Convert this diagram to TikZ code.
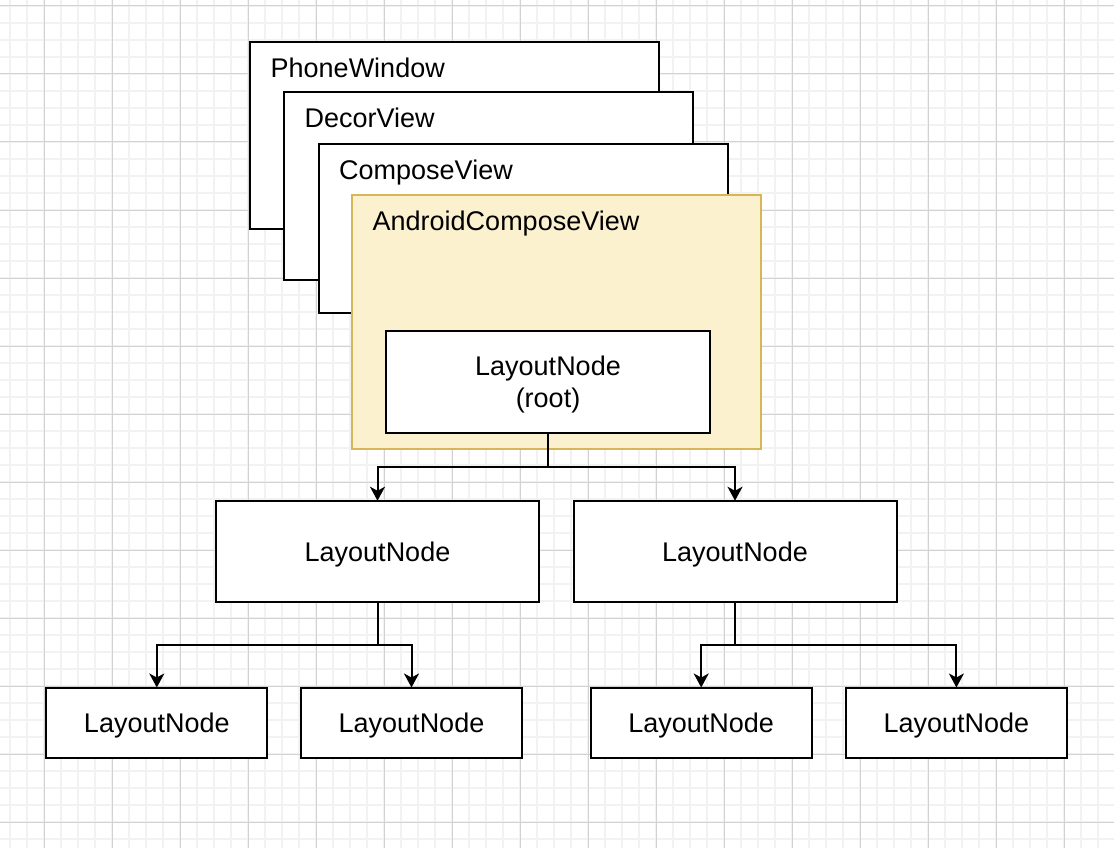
\documentclass[tikz,border=0pt]{standalone}
\usepackage{fontspec}
\setmainfont{Liberation Sans}
\usetikzlibrary{arrows.meta}
\definecolor{notefill}{HTML}{FCF1CE}
\definecolor{notedraw}{HTML}{D6B656}
\definecolor{minorline}{HTML}{F2F2F2}
\definecolor{majorline}{HTML}{D2D2D2}
\newcommand{\layer}[4]{\node[layer,#4,label={[title]north west:#3}] (#1) at (#2) {};}

\begin{document}
\begin{tikzpicture}[
      x=1pt, y=-1pt,
      every node/.style={font=\fontsize{27}{32}\selectfont},
      minorgrid/.style={draw=minorline, line width=1.5pt},
      majorgrid/.style={draw=majorline, line width=1pt},
      layer/.style={rectangle, draw=black, fill=white, line width=2pt, outer sep=0pt, anchor=north west, minimum width=409, minimum height=187},
      title/.style={anchor=base west, inner sep=0pt, xshift=20.5pt, yshift=-35.5pt},
      lnode/.style={rectangle, draw=black, fill=white, line width=2pt, outer sep=0pt, text depth=0pt, align=center},
      leaf/.style={lnode, minimum width=221, minimum height=70},
      pointer/.style={line width=2pt, draw=black, -{Stealth[length=14pt,width=15pt,inset=4pt]}}
      ]
      \useasboundingbox (0,0) rectangle (1114,848);
      \fill[white] (0,0) rectangle (1114,848);
      % grid
      \foreach \x in {10,27,...,1113} \draw[minorgrid] (\x,0) -- (\x,848);
      \foreach \y in {6,23,...,847} \draw[minorgrid] (0,\y) -- (1114,\y);
      \foreach \x in {44,112,...,1113} \draw[majorgrid] (\x,0) -- (\x,848);
      \foreach \y in {6,74,...,847} \draw[majorgrid] (0,\y) -- (1114,\y);

      % stacked views
      \layer{phonewindow}{250,42}{PhoneWindow}{minimum height=186.5}
      \layer{decorview}{284,92.5}{DecorView}{}
      \layer{composeview}{318.5,143.7}{ComposeView}{minimum height=169.6}
      \layer{androidview}{352,194.5}{AndroidComposeView}{fill=notefill, draw=notedraw, minimum height=254.5}

      % tree
      \node[lnode, minimum width=324, minimum height=102] (root) at (548,381.5) {LayoutNode\\(root)};
      \node[lnode, minimum width=323, minimum height=101.5] (midleft) at (377.5,551.5) {LayoutNode};
      \node[lnode, minimum width=323, minimum height=101.5] (midright) at (735,551.5) {LayoutNode};
      \node[leaf] (leafa) at (156.8,722.5) {LayoutNode};
      \node[leaf] (leafb) at (411.5,722.5) {LayoutNode};
      \node[leaf] (leafc) at (701.2,722.5) {LayoutNode};
      \node[leaf] (leafd) at (956.4,722.5) {LayoutNode};

      \draw[pointer] (root.south) -- ++(0,34) -| (midleft.north);
      \draw[pointer] (root.south) -- ++(0,34) -| (midright.north);
      \draw[pointer] (midleft.south) -- ++(0,42.5) -| (leafa.north);
      \draw[pointer] (midleft.south) -- ++(0,42.5) -| (leafb.north);
      \draw[pointer] (midright.south) -- ++(0,42.5) -| (leafc.north);
      \draw[pointer] (midright.south) -- ++(0,42.5) -| (leafd.north);
    \end{tikzpicture}
\end{document}
